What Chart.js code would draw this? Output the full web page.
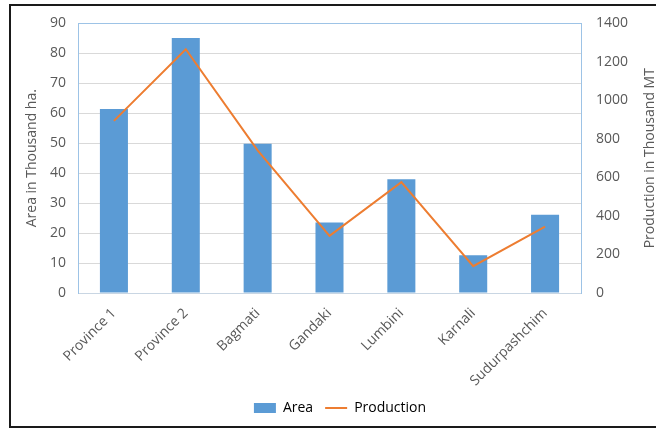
<!DOCTYPE html>
<html>
<head>
<meta charset="utf-8">
<script src="https://cdn.jsdelivr.net/npm/chart.js@4"></script>
<style>
    body { margin: 0; background: #fff; overflow: hidden; }
    .wrap { position: relative; width: 656px; height: 428px; }
    .frame {
        position: absolute; left: 9px; top: 4px; width: 700px; height: 420px;
        border: 2px solid #1a1a1a; pointer-events: none;
    }
</style>
</head>
<body>
<div class="wrap">
    <canvas id="myChart"></canvas>
    <div class="frame"></div>
</div>
<script>
const provinces = ['Province 1', 'Province 2', 'Bagmati', 'Gandaki', 'Lumbini', 'Karnali', 'Sudurpashchim'];
const areaValues = [61.4, 85.1, 49.8, 23.5, 38.0, 12.6, 26.1];
const productionValues = [894, 1266, 741, 297, 576, 139, 345];

const textColor = '#595959';
const blueBar = '#5B9BD5';
const orangeLine = '#ED7D31';
const edgeBlue = '#9DC3E6';
const baseFont = { family: 'Open Sans', size: 14 };

Chart.defaults.font.family = 'Open Sans';
Chart.defaults.color = textColor;

// right axis title reads bottom-to-top, so draw it by hand
const rightTitle = {
    id: 'rightTitle',
    afterDraw(chart) {
        const ctx = chart.ctx;
        const area = chart.chartArea;
        ctx.save();
        ctx.translate(650, (area.top + area.bottom) / 2);
        ctx.rotate(-Math.PI / 2);
        ctx.font = '14px "Open Sans"';
        ctx.fillStyle = textColor;
        ctx.textAlign = 'center';
        ctx.textBaseline = 'middle';
        ctx.fillText('Production in Thousand MT', 0, 0);
        ctx.restore();
    }
};

const chart = document.getElementById('myChart').getContext('2d');

new Chart(chart, {
    data: {
        labels: provinces,
        datasets: [{
            type: 'bar',
            label: 'Area',
            data: areaValues,
            backgroundColor: blueBar,
            barPercentage: 0.39,
            categoryPercentage: 1,
            yAxisID: 'y',
            order: 2
        }, {
            type: 'line',
            label: 'Production',
            data: productionValues,
            borderColor: orangeLine,
            borderWidth: 2,
            pointRadius: 0,
            tension: 0,
            yAxisID: 'y1',
            order: 1
        }]
    },
    options: {
        responsive: true,
        maintainAspectRatio: false,
        animation: false,
        // left padding pushes the legend a little right of centre
        layout: { padding: { top: 20, bottom: 3, left: 24, right: 0 } },
        plugins: {
            tooltip: { enabled: false },
            legend: {
                position: 'bottom',
                labels: {
                    font: baseFont,
                    color: textColor,
                    usePointStyle: true,
                    pointStyleWidth: 22,
                    boxHeight: 10,
                    padding: 12,
                    generateLabels: function () {
                        return [
                            { text: 'Area', fillStyle: blueBar, strokeStyle: blueBar, lineWidth: 0, pointStyle: 'rect', datasetIndex: 0 },
                            { text: 'Production', fillStyle: orangeLine, strokeStyle: orangeLine, lineWidth: 2, pointStyle: 'line', datasetIndex: 1 }
                        ];
                    }
                }
            }
        },
        scales: {
            x: {
                grid: { display: false },
                border: { display: true, color: '#C9D6E3' },
                ticks: { font: baseFont, color: textColor, minRotation: 45, maxRotation: 45, padding: 4 },
                afterFit: function (scale) { scale.height = 96; }
            },
            y: {
                position: 'left',
                min: 0,
                max: 90,
                border: { display: true, color: edgeBlue },
                grid: {
                    drawTicks: false,
                    color: function (ctx) { return ctx.tick && ctx.tick.value === 90 ? edgeBlue : '#D9D9D9'; }
                },
                ticks: { stepSize: 10, font: baseFont, color: textColor, padding: 12 },
                title: {
                    display: true,
                    text: 'Area in Thousand ha.',
                    font: baseFont,
                    color: textColor,
                    padding: { top: 0, bottom: 0 }
                },
                afterFit: function (scale) { scale.width = 54; }
            },
            y1: {
                position: 'right',
                min: 0,
                max: 1400,
                border: { display: true, color: edgeBlue },
                grid: { display: false, drawTicks: false },
                ticks: {
                    stepSize: 200,
                    font: baseFont,
                    color: textColor,
                    padding: 15,
                    callback: function (value) { return String(value); }
                },
                afterFit: function (scale) { scale.width = 75; }
            }
        }
    },
    plugins: [rightTitle]
});
</script>
</body>
</html>
